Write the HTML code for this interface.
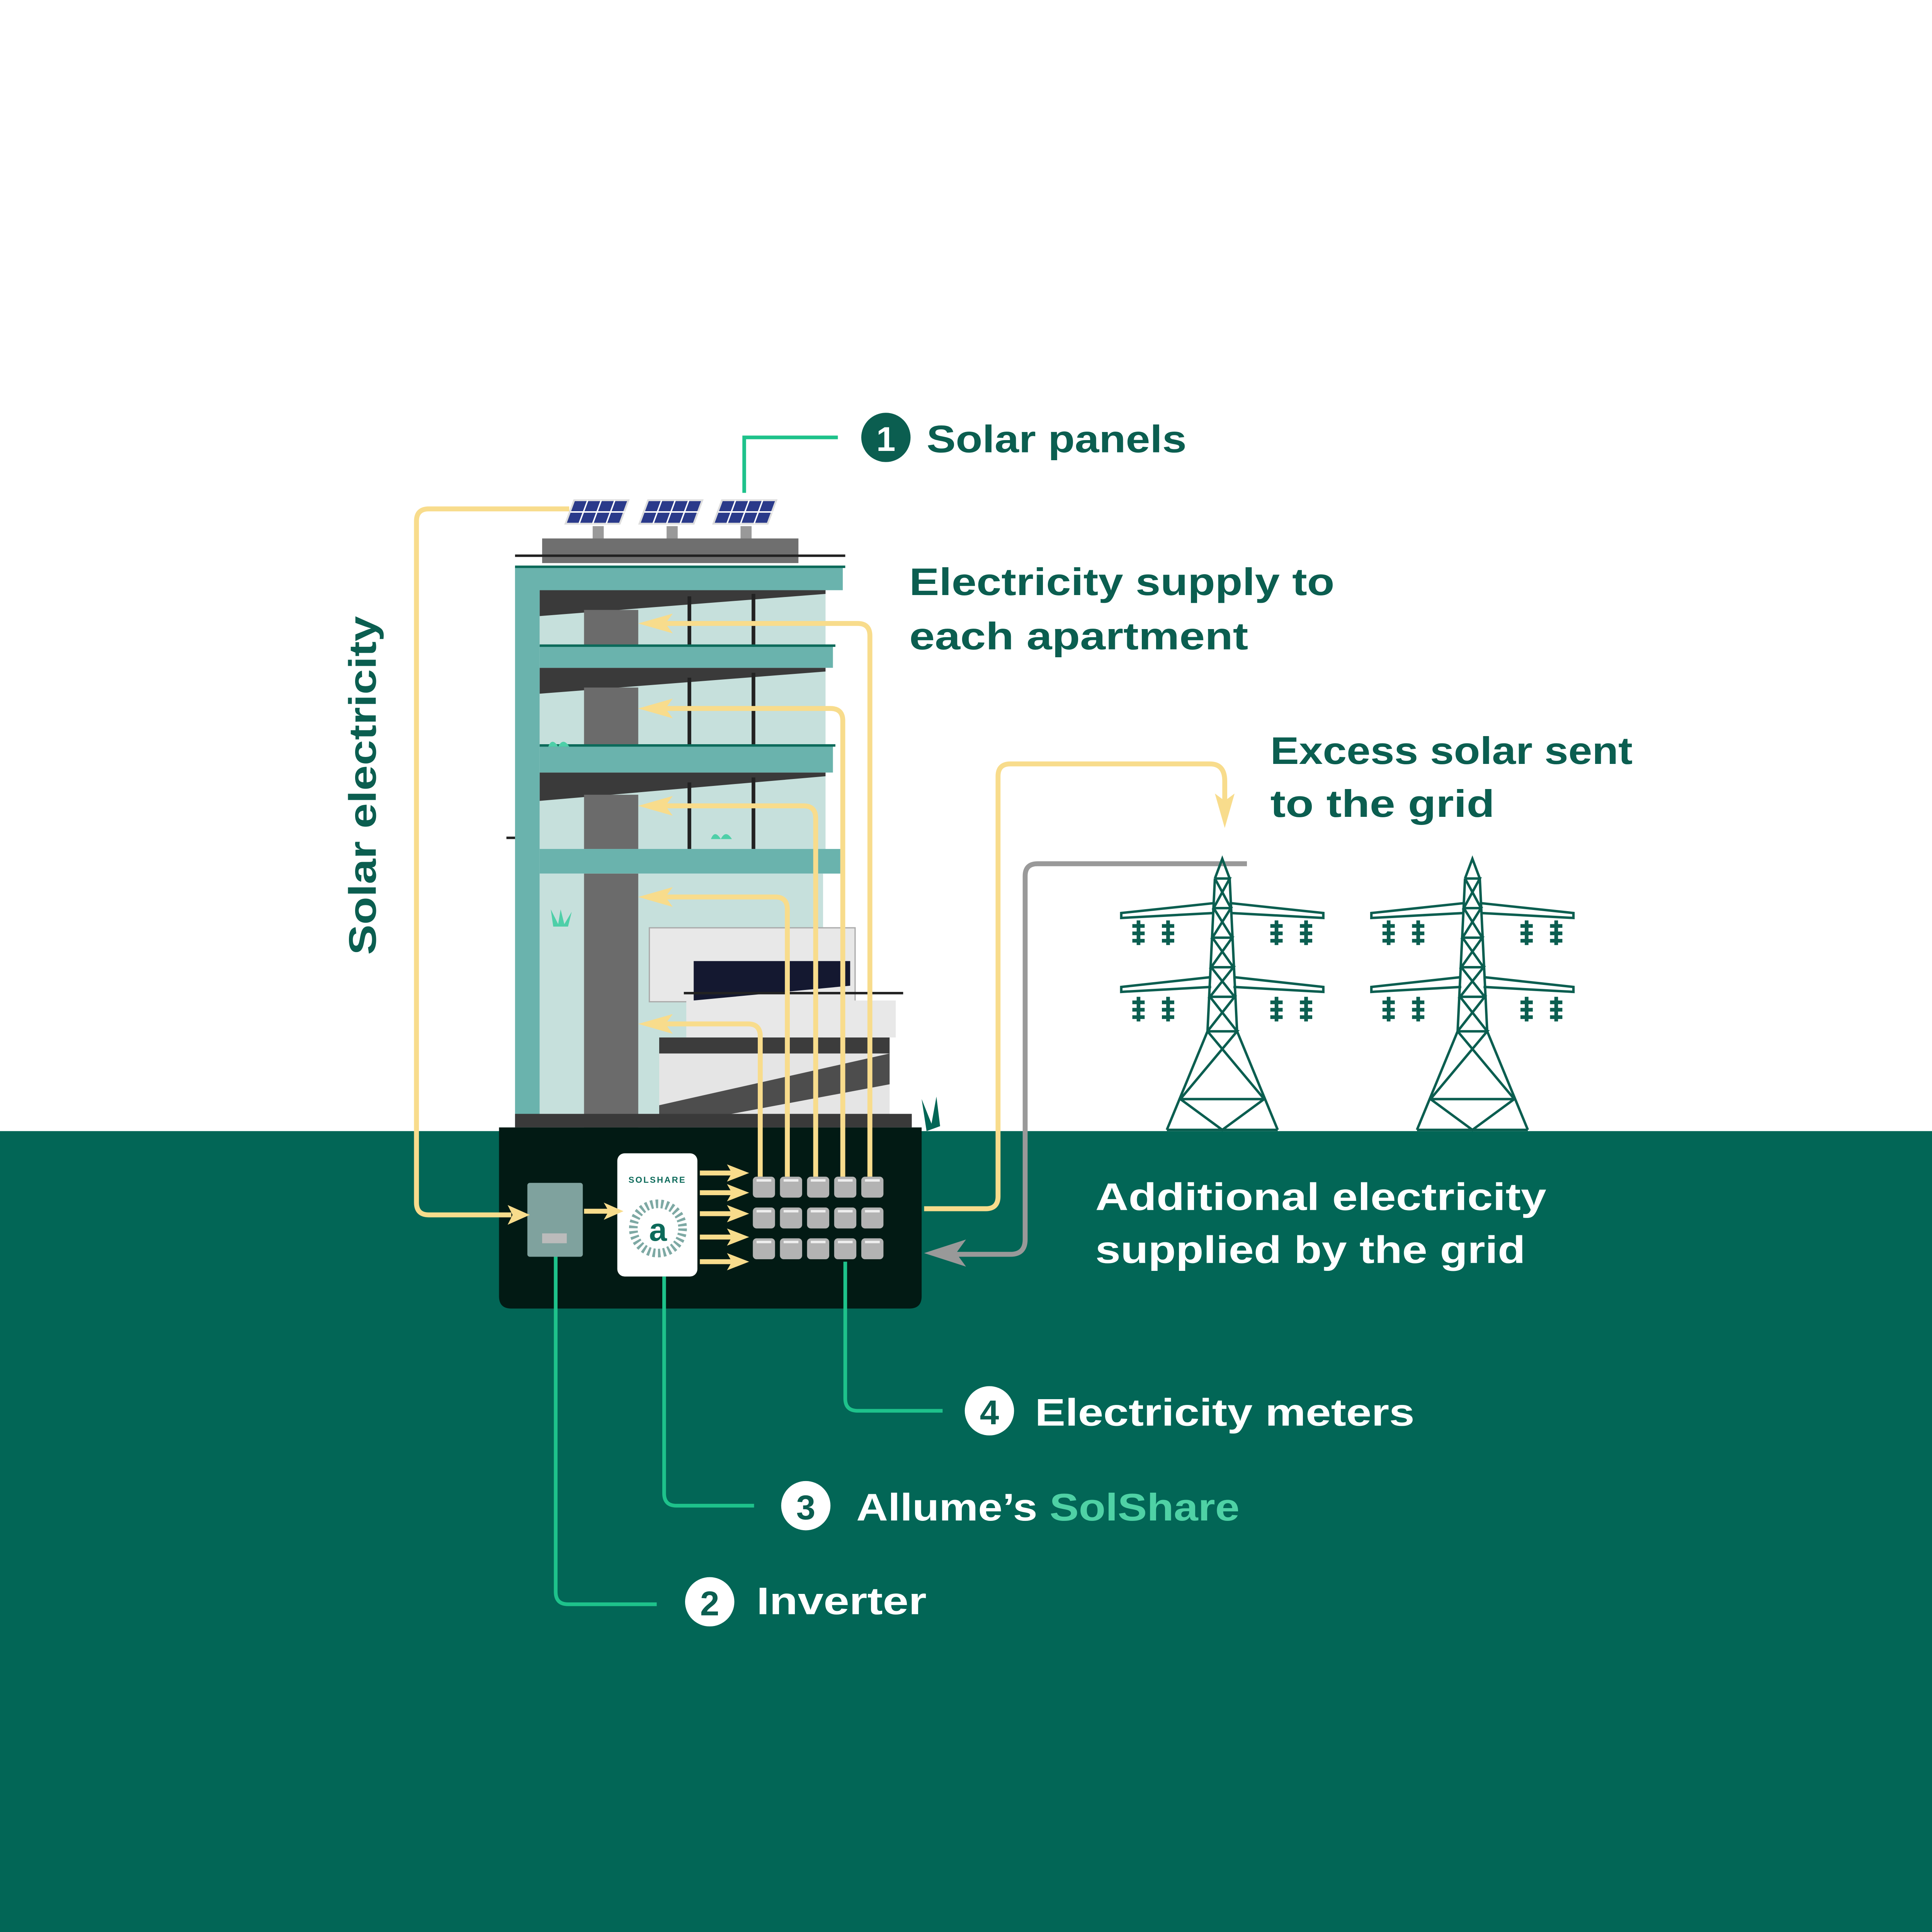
<!DOCTYPE html>
<html><head><meta charset="utf-8">
<style>
html,body{margin:0;padding:0;background:#fff;width:100%;height:100%;overflow:hidden}
svg{display:block;width:100vw;height:100vh;position:absolute;left:0;top:0}
text{font-family:"Liberation Sans",sans-serif;font-weight:bold}
</style></head><body>
<svg viewBox="0 0 1568 1568" preserveAspectRatio="none" xmlns="http://www.w3.org/2000/svg">
<rect width="1568" height="1568" fill="#fff"/>
<rect y="918" width="1568" height="650" fill="#026656"/>

<rect x="440" y="437" width="208" height="20" fill="#6f6f6f"/>
<line x1="418" y1="451" x2="686" y2="451" stroke="#222" stroke-width="2"/>
<rect x="418" y="460" width="20" height="455" fill="#6ab3ad"/>
<rect x="418" y="460" width="266" height="19" fill="#6ab3ad"/>
<rect x="418" y="459" width="268" height="2" fill="#0c6a5a"/>
<rect x="438" y="479" width="232" height="45" fill="#c6e0dc"/>
<polygon points="438,479 670,479 670,482 438,500" fill="#3a3a3a"/>
<rect x="474" y="495" width="44" height="29" fill="#6b6b6b"/>
<rect x="558" y="484" width="3" height="40" fill="#222"/><rect x="610" y="482" width="3" height="42" fill="#222"/>
<rect x="438" y="524" width="238" height="18" fill="#6ab3ad"/><rect x="438" y="523" width="240" height="2" fill="#0c6a5a"/>
<rect x="438" y="542" width="232" height="63" fill="#c6e0dc"/>
<polygon points="438,542 670,542 670,545 438,563" fill="#3a3a3a"/>
<rect x="474" y="558" width="44" height="47" fill="#6b6b6b"/>
<rect x="558" y="550" width="3" height="55" fill="#222"/><rect x="610" y="546" width="3" height="59" fill="#222"/>
<rect x="438" y="605" width="238" height="22" fill="#6ab3ad"/><rect x="438" y="604" width="240" height="2" fill="#0c6a5a"/>
<rect x="438" y="627" width="232" height="62" fill="#c6e0dc"/>
<polygon points="438,627 670,627 670,630 438,650" fill="#3a3a3a"/>
<rect x="474" y="645" width="44" height="44" fill="#6b6b6b"/>
<rect x="558" y="635" width="3" height="54" fill="#222"/><rect x="610" y="631" width="3" height="58" fill="#222"/>
<rect x="438" y="689" width="244" height="20" fill="#6ab3ad"/>
<line x1="411" y1="680" x2="418" y2="680" stroke="#222" stroke-width="2"/>
<rect x="438" y="709" width="230" height="195" fill="#c6e0dc"/>
<rect x="474" y="709" width="44" height="206" fill="#6b6b6b"/>
<rect x="527" y="753" width="167" height="60" fill="#e8e8e8" stroke="#aaa" stroke-width="1"/>
<polygon points="563,780 690,780 690,800 563,812" fill="#141830"/>
<rect x="557" y="812" width="170" height="30" fill="#e8e8e8"/>
<line x1="555" y1="806" x2="733" y2="806" stroke="#222" stroke-width="2"/>
<polygon points="535,842 722,842 722,855 535,897" fill="#3c3c3c"/>
<rect x="535" y="855" width="187" height="60" fill="#e5e5e5"/>
<polygon points="535,897 722,855 722,880 535,915" fill="#3c3c3c" opacity="0.9"/>
<rect x="418" y="904" width="322" height="11" fill="#3a3a3a"/>
<path d="M445,606 q3,-8 8,0 q4,-8 9,0 z" fill="#4ecfa8"/>
<path d="M577,681 q3,-8 8,0 q4,-8 9,0 z" fill="#4ecfa8"/>
<path d="M449,752 l-2,-14 l6,12 l2,-12 l3,12 l6,-10 l-3,12 z" fill="#4ecfa8"/>
<path d="M752,918 l-4,-26 l8,20 l4,-22 l3,24 z" fill="#026656"/>

<g fill="#2a3a8a" stroke="#ddd" stroke-width="1.5">
<polygon points="466,406 510,406 503,425 459,425"/>
<polygon points="526,406 570,406 563,425 519,425"/>
<polygon points="586,406 630,406 623,425 579,425"/>
</g>
<g stroke="#fff" stroke-width="1.2">
<line x1="463" y1="415.5" x2="507" y2="415.5"/><line x1="523" y1="415.5" x2="567" y2="415.5"/><line x1="583" y1="415.5" x2="627" y2="415.5"/>
<line x1="477" y1="406" x2="470" y2="425"/><line x1="488" y1="406" x2="481" y2="425"/><line x1="499" y1="406" x2="492" y2="425"/>
<line x1="537" y1="406" x2="530" y2="425"/><line x1="548" y1="406" x2="541" y2="425"/><line x1="559" y1="406" x2="552" y2="425"/>
<line x1="597" y1="406" x2="590" y2="425"/><line x1="608" y1="406" x2="601" y2="425"/><line x1="619" y1="406" x2="612" y2="425"/>
</g>
<rect x="481" y="427" width="9" height="10" fill="#999"/><rect x="541" y="427" width="9" height="10" fill="#999"/><rect x="601" y="427" width="9" height="10" fill="#999"/>

<path d="M405,915 H748 V1052 q0,10 -10,10 H415 q-10,0 -10,-10 Z" fill="#021a14"/>
<rect x="428" y="960" width="45" height="60" rx="2" fill="#7fa29e"/>
<rect x="440" y="1001" width="20" height="8" fill="#bbb"/>
<rect x="501" y="936" width="65" height="100" rx="6" fill="#fff"/>
<text x="533.5" y="960" font-size="7" fill="#0c6a5a" text-anchor="middle" letter-spacing="1">SOLSHARE</text>
<circle cx="534" cy="997" r="20" fill="none" stroke="#7ea9a4" stroke-width="7" stroke-dasharray="2 2.2"/>
<text x="534" y="1007" font-size="26" fill="#0c6a5a" text-anchor="middle" font-weight="normal">a</text>
<g fill="#b3b3b3">
<rect x="611" y="955" width="18" height="17" rx="3"/><rect x="633" y="955" width="18" height="17" rx="3"/><rect x="655" y="955" width="18" height="17" rx="3"/><rect x="677" y="955" width="18" height="17" rx="3"/><rect x="699" y="955" width="18" height="17" rx="3"/>
<rect x="611" y="980" width="18" height="17" rx="3"/><rect x="633" y="980" width="18" height="17" rx="3"/><rect x="655" y="980" width="18" height="17" rx="3"/><rect x="677" y="980" width="18" height="17" rx="3"/><rect x="699" y="980" width="18" height="17" rx="3"/>
<rect x="611" y="1005" width="18" height="17" rx="3"/><rect x="633" y="1005" width="18" height="17" rx="3"/><rect x="655" y="1005" width="18" height="17" rx="3"/><rect x="677" y="1005" width="18" height="17" rx="3"/><rect x="699" y="1005" width="18" height="17" rx="3"/>
</g>
<g fill="#eee">
<rect x="614" y="957" width="12" height="2"/><rect x="636" y="957" width="12" height="2"/><rect x="658" y="957" width="12" height="2"/><rect x="680" y="957" width="12" height="2"/><rect x="702" y="957" width="12" height="2"/>
<rect x="614" y="982" width="12" height="2"/><rect x="636" y="982" width="12" height="2"/><rect x="658" y="982" width="12" height="2"/><rect x="680" y="982" width="12" height="2"/><rect x="702" y="982" width="12" height="2"/>
<rect x="614" y="1007" width="12" height="2"/><rect x="636" y="1007" width="12" height="2"/><rect x="658" y="1007" width="12" height="2"/><rect x="680" y="1007" width="12" height="2"/><rect x="702" y="1007" width="12" height="2"/>
</g>

<g fill="none" stroke="#f8dc8c" stroke-width="4">
<path d="M462,413 H348 q-10,0 -10,10 V976 q0,10 10,10 H415"/>
<path d="M474,983 H495"/>
<path d="M568,952 H598 M568,968 H598 M568,985 H598 M568,1004 H598 M568,1024 H598"/>
<path d="M706,955 V516 q0,-10 -10,-10 H530"/>
<path d="M684,955 V585 q0,-10 -10,-10 H530"/>
<path d="M662,955 V664 q0,-10 -10,-10 H530"/>
<path d="M639,955 V738 q0,-10 -10,-10 H530"/>
<path d="M617,955 V841 q0,-10 -10,-10 H530"/>
<path d="M750,981 H800 q10,0 10,-10 V630 q0,-10 10,-10 H982 q12,0 12,14 V655"/>
</g>
<g fill="#f8dc8c">
<polygon points="430,986 412,978 416,986 412,994"/>
<polygon points="506,983 490,976 494,983 490,990"/>
<polygon points="608,952 590,945 594,952 590,959"/><polygon points="608,968 590,961 594,968 590,975"/><polygon points="608,985 590,978 594,985 590,992"/><polygon points="608,1004 590,997 594,1004 590,1011"/><polygon points="608,1024 590,1017 594,1024 590,1031"/>
<polygon points="518,506 546,498 540,506 546,514"/>
<polygon points="518,575 546,567 540,575 546,583"/>
<polygon points="518,654 546,646 540,654 546,662"/>
<polygon points="518,728 546,720 540,728 546,736"/>
<polygon points="518,831 546,823 540,831 546,839"/>
<polygon points="994,672 986,644 994,650 1002,644"/>
</g>
<path d="M1012,701 H842 q-10,0 -10,10 V1006 q0,12 -12,12 H770" fill="none" stroke="#999" stroke-width="4"/>
<polygon points="750,1017 784,1006 776,1017 784,1028" fill="#999"/>

<g fill="none" stroke="#1ec28b" stroke-width="3">
<path d="M604,400 V355 H680"/>
<path d="M686,1024 V1135 q0,10 10,10 H765"/>
<path d="M539,1036 V1212 q0,10 10,10 H612"/>
<path d="M451,1020 V1292 q0,10 10,10 H533"/>
</g>

<defs>
<g id="tw" fill="none" stroke="#0b5e50" stroke-width="2">
<path d="M-6,16 L0,0 L6,16 M-12,140 L-6,16 M12,140 L6,16 M-12,140 L-45,220 M12,140 L45,220 M-45,220 H45 M-12,140 H12 L-34,195 H34 L-12,140 M-34,195 L0,220 L34,195"/>
<path d="M-6,16 H6 L-7,40 H7 L-8,64 H8 L-9,88 H9 L-10,112 H10 L-12,140 M6,16 L-7,40 M7,40 L-8,64 M8,64 L-9,88 M9,88 L-10,112 M10,112 L-12,140 M-6,16 L7,40 M-7,40 L8,64 M-8,64 L9,88 M-9,88 L10,112 M-10,112 L12,140"/>
<path d="M-7,36 L-82,44 V48 L-7,44 M7,36 L82,44 V48 L7,44"/>
<path d="M-9,96 L-82,104 V108 L-9,104 M9,96 L82,104 V108 L9,104"/>
</g>
<g id="ins" fill="#0b5e50"><rect x="-1.5" y="0" width="3" height="20"/><rect x="-5" y="3" width="10" height="3"/><rect x="-5" y="9" width="10" height="3"/><rect x="-5" y="15" width="10" height="3"/></g>
</defs>
<g transform="translate(992,697)"><use href="#tw"/>
<use href="#ins" x="-68" y="50"/><use href="#ins" x="-44" y="50"/><use href="#ins" x="44" y="50"/><use href="#ins" x="68" y="50"/>
<use href="#ins" x="-68" y="112"/><use href="#ins" x="-44" y="112"/><use href="#ins" x="44" y="112"/><use href="#ins" x="68" y="112"/></g>
<g transform="translate(1195,697)"><use href="#tw"/>
<use href="#ins" x="-68" y="50"/><use href="#ins" x="-44" y="50"/><use href="#ins" x="44" y="50"/><use href="#ins" x="68" y="50"/>
<use href="#ins" x="-68" y="112"/><use href="#ins" x="-44" y="112"/><use href="#ins" x="44" y="112"/><use href="#ins" x="68" y="112"/></g>

<circle cx="719" cy="355" r="20" fill="#0b5e50"/>
<text x="719" y="366" font-size="28" fill="#fff" text-anchor="middle">1</text>
<text x="752" y="367" font-size="31" fill="#0b5e50" textLength="211" lengthAdjust="spacingAndGlyphs">Solar panels</text>
<text x="738" y="483" font-size="31" fill="#0b5e50" textLength="345" lengthAdjust="spacingAndGlyphs">Electricity supply to</text>
<text x="738" y="527" font-size="31" fill="#0b5e50" textLength="275" lengthAdjust="spacingAndGlyphs">each apartment</text>
<text x="1031" y="620" font-size="31" fill="#0b5e50" textLength="294" lengthAdjust="spacingAndGlyphs">Excess solar sent</text>
<text x="1031" y="663" font-size="31" fill="#0b5e50" textLength="182" lengthAdjust="spacingAndGlyphs">to the grid</text>
<text transform="translate(305,775) rotate(-90)" font-size="31" fill="#0b5e50" textLength="275" lengthAdjust="spacingAndGlyphs">Solar electricity</text>
<text x="889" y="982" font-size="31" fill="#fff" textLength="366" lengthAdjust="spacingAndGlyphs">Additional electricity</text>
<text x="889" y="1025" font-size="31" fill="#fff" textLength="349" lengthAdjust="spacingAndGlyphs">supplied by the grid</text>
<circle cx="803" cy="1145" r="20" fill="#fff"/><text x="803" y="1156" font-size="28" fill="#0b5e50" text-anchor="middle">4</text>
<text x="840" y="1157" font-size="31" fill="#fff" textLength="308" lengthAdjust="spacingAndGlyphs">Electricity meters</text>
<circle cx="654" cy="1222" r="20" fill="#fff"/><text x="654" y="1233" font-size="28" fill="#0b5e50" text-anchor="middle">3</text>
<text x="695" y="1234" font-size="31" fill="#fff" textLength="311" lengthAdjust="spacingAndGlyphs">Allume’s <tspan fill="#4fd1a5">SolShare</tspan></text>
<circle cx="576" cy="1300" r="20" fill="#fff"/><text x="576" y="1311" font-size="28" fill="#0b5e50" text-anchor="middle">2</text>
<text x="614" y="1310" font-size="31" fill="#fff" textLength="138" lengthAdjust="spacingAndGlyphs">Inverter</text>
</svg>
</body></html>
